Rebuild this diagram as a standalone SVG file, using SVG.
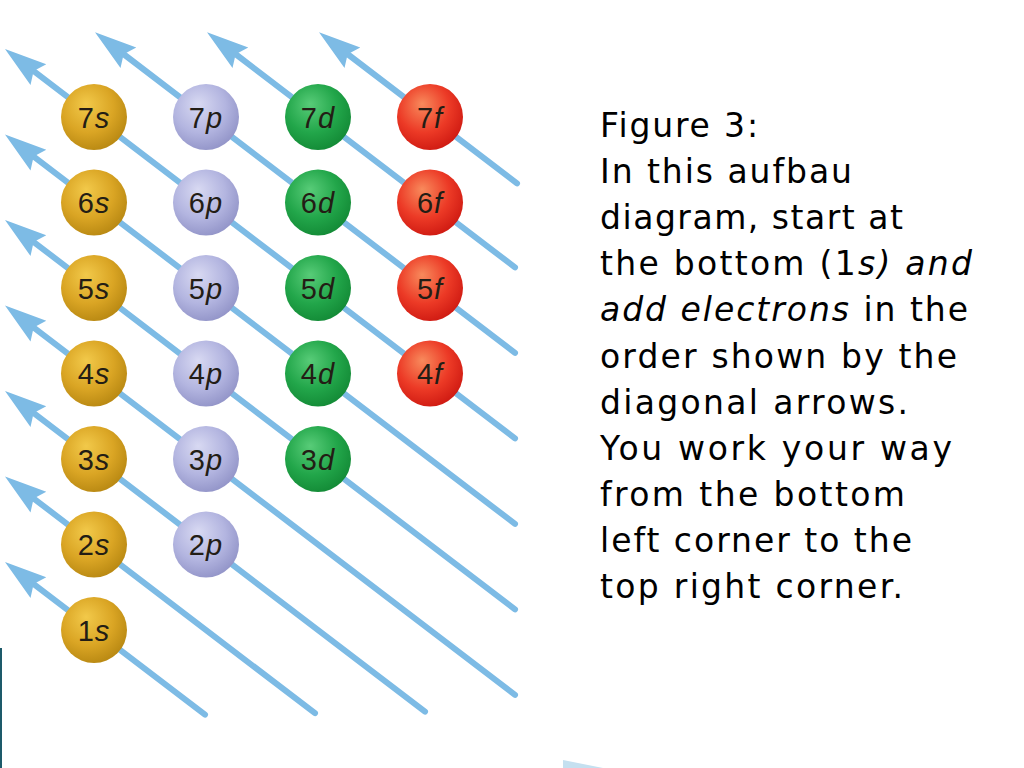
<svg xmlns="http://www.w3.org/2000/svg" width="1024" height="768" viewBox="0 0 1024 768">
<defs>
<style>
.arrow{fill:none;stroke:#7dbbe5;stroke-width:6;stroke-linecap:round;marker-end:url(#head)}
.lbl{font-family:"Liberation Sans",Arial,sans-serif;font-size:29px;fill:#231d15;text-anchor:middle;letter-spacing:1px}
.o{font-style:italic}
.txt{font-family:"DejaVu Sans","Liberation Sans",sans-serif;font-size:33px;fill:#000}
.it{font-style:italic}
.s{fill:url(#gs)}.p{fill:url(#gp)}.d{fill:url(#gd)}.f{fill:url(#gf)}
</style>
<marker id="head" markerUnits="userSpaceOnUse" orient="auto" viewBox="-14 -15 46 30" refX="0" refY="0" markerWidth="46" markerHeight="30" overflow="visible">
<path d="M30,0 L-12,-13 L-6,0 L-12,13 Z" fill="#7dbbe5"/>
</marker>
<radialGradient id="gs" cx="0.42" cy="0.38" r="0.65" fx="0.38" fy="0.3">
<stop offset="0" stop-color="#f2c94a"/><stop offset="0.6" stop-color="#daa524"/><stop offset="1" stop-color="#b88812"/></radialGradient>
<radialGradient id="gp" cx="0.42" cy="0.38" r="0.65" fx="0.38" fy="0.3">
<stop offset="0" stop-color="#d8d9f2"/><stop offset="0.6" stop-color="#b3b5e0"/><stop offset="1" stop-color="#9294c8"/></radialGradient>
<radialGradient id="gd" cx="0.42" cy="0.38" r="0.65" fx="0.38" fy="0.3">
<stop offset="0" stop-color="#58cc78"/><stop offset="0.6" stop-color="#22a64a"/><stop offset="1" stop-color="#138a36"/></radialGradient>
<radialGradient id="gf" cx="0.42" cy="0.38" r="0.65" fx="0.38" fy="0.3">
<stop offset="0" stop-color="#f88a5c"/><stop offset="0.6" stop-color="#ec3a26"/><stop offset="1" stop-color="#cf1a12"/></radialGradient>
</defs>
<rect width="1024" height="768" fill="#ffffff"/>
<g id="connectors">
<path class="arrow" d="M205,714.7 L28.86,580.3"/>
<path class="arrow" d="M315,713.2 L28.86,494.8"/>
<path class="arrow" d="M425,711.7 L28.86,409.3"/>
<path class="arrow" d="M515,694.9 L28.86,323.8"/>
<path class="arrow" d="M515,609.4 L28.86,238.3"/>
<path class="arrow" d="M515,523.9 L28.86,152.8"/>
<path class="arrow" d="M515,438.4 L28.86,67.3"/>
<path class="arrow" d="M515,352.9 L118.86,50.5"/>
<path class="arrow" d="M515,267.4 L230.86,50.5"/>
<path class="arrow" d="M517,183.4 L342.86,50.5"/>
</g>
<g id="n7s"><circle class="s" cx="94" cy="117" r="33"/><text class="lbl" x="94" y="127.5">7<tspan class="o">s</tspan></text></g>
<g id="n7p"><circle class="p" cx="206" cy="117" r="33"/><text class="lbl" x="206" y="127.5">7<tspan class="o">p</tspan></text></g>
<g id="n7d"><circle class="d" cx="318" cy="117" r="33"/><text class="lbl" x="318" y="127.5">7<tspan class="o">d</tspan></text></g>
<g id="n7f"><circle class="f" cx="430" cy="117" r="33"/><text class="lbl" x="430" y="127.5">7<tspan class="o">f</tspan></text></g>
<g id="n6s"><circle class="s" cx="94" cy="202.5" r="33"/><text class="lbl" x="94" y="213">6<tspan class="o">s</tspan></text></g>
<g id="n6p"><circle class="p" cx="206" cy="202.5" r="33"/><text class="lbl" x="206" y="213">6<tspan class="o">p</tspan></text></g>
<g id="n6d"><circle class="d" cx="318" cy="202.5" r="33"/><text class="lbl" x="318" y="213">6<tspan class="o">d</tspan></text></g>
<g id="n6f"><circle class="f" cx="430" cy="202.5" r="33"/><text class="lbl" x="430" y="213">6<tspan class="o">f</tspan></text></g>
<g id="n5s"><circle class="s" cx="94" cy="288" r="33"/><text class="lbl" x="94" y="298.5">5<tspan class="o">s</tspan></text></g>
<g id="n5p"><circle class="p" cx="206" cy="288" r="33"/><text class="lbl" x="206" y="298.5">5<tspan class="o">p</tspan></text></g>
<g id="n5d"><circle class="d" cx="318" cy="288" r="33"/><text class="lbl" x="318" y="298.5">5<tspan class="o">d</tspan></text></g>
<g id="n5f"><circle class="f" cx="430" cy="288" r="33"/><text class="lbl" x="430" y="298.5">5<tspan class="o">f</tspan></text></g>
<g id="n4s"><circle class="s" cx="94" cy="373.5" r="33"/><text class="lbl" x="94" y="384">4<tspan class="o">s</tspan></text></g>
<g id="n4p"><circle class="p" cx="206" cy="373.5" r="33"/><text class="lbl" x="206" y="384">4<tspan class="o">p</tspan></text></g>
<g id="n4d"><circle class="d" cx="318" cy="373.5" r="33"/><text class="lbl" x="318" y="384">4<tspan class="o">d</tspan></text></g>
<g id="n4f"><circle class="f" cx="430" cy="373.5" r="33"/><text class="lbl" x="430" y="384">4<tspan class="o">f</tspan></text></g>
<g id="n3s"><circle class="s" cx="94" cy="459" r="33"/><text class="lbl" x="94" y="469.5">3<tspan class="o">s</tspan></text></g>
<g id="n3p"><circle class="p" cx="206" cy="459" r="33"/><text class="lbl" x="206" y="469.5">3<tspan class="o">p</tspan></text></g>
<g id="n3d"><circle class="d" cx="318" cy="459" r="33"/><text class="lbl" x="318" y="469.5">3<tspan class="o">d</tspan></text></g>
<g id="n2s"><circle class="s" cx="94" cy="544.5" r="33"/><text class="lbl" x="94" y="555">2<tspan class="o">s</tspan></text></g>
<g id="n2p"><circle class="p" cx="206" cy="544.5" r="33"/><text class="lbl" x="206" y="555">2<tspan class="o">p</tspan></text></g>
<g id="n1s"><circle class="s" cx="94" cy="630" r="33"/><text class="lbl" x="94" y="640.5">1<tspan class="o">s</tspan></text></g>
<g id="caption" class="txt">
<text x="600" y="137" textLength="158" lengthAdjust="spacing">Figure 3:</text>
<text x="600" y="183.1" textLength="252" lengthAdjust="spacing">In this aufbau</text>
<text x="600" y="229.2" textLength="303" lengthAdjust="spacing">diagram, start at</text>
<text x="600" y="275.3" textLength="372" lengthAdjust="spacing">the bottom (1<tspan class="it">s) and</tspan></text>
<text x="600" y="321.4" textLength="368" lengthAdjust="spacing"><tspan class="it">add electrons</tspan> in the</text>
<text x="600" y="367.5" textLength="357" lengthAdjust="spacing">order shown by the</text>
<text x="600" y="413.6" textLength="308" lengthAdjust="spacing">diagonal arrows.</text>
<text x="600" y="459.7" textLength="352" lengthAdjust="spacing">You work your way</text>
<text x="600" y="505.8" textLength="305" lengthAdjust="spacing">from the bottom</text>
<text x="600" y="551.9" textLength="312" lengthAdjust="spacing">left corner to the</text>
<text x="600" y="598" textLength="303" lengthAdjust="spacing">top right corner.</text>
</g>
<rect x="0" y="648" width="2" height="120" fill="#1d5a6a"/>
<polygon points="563,760 603,768 563,768" fill="#c5e0f0"/>
</svg>
